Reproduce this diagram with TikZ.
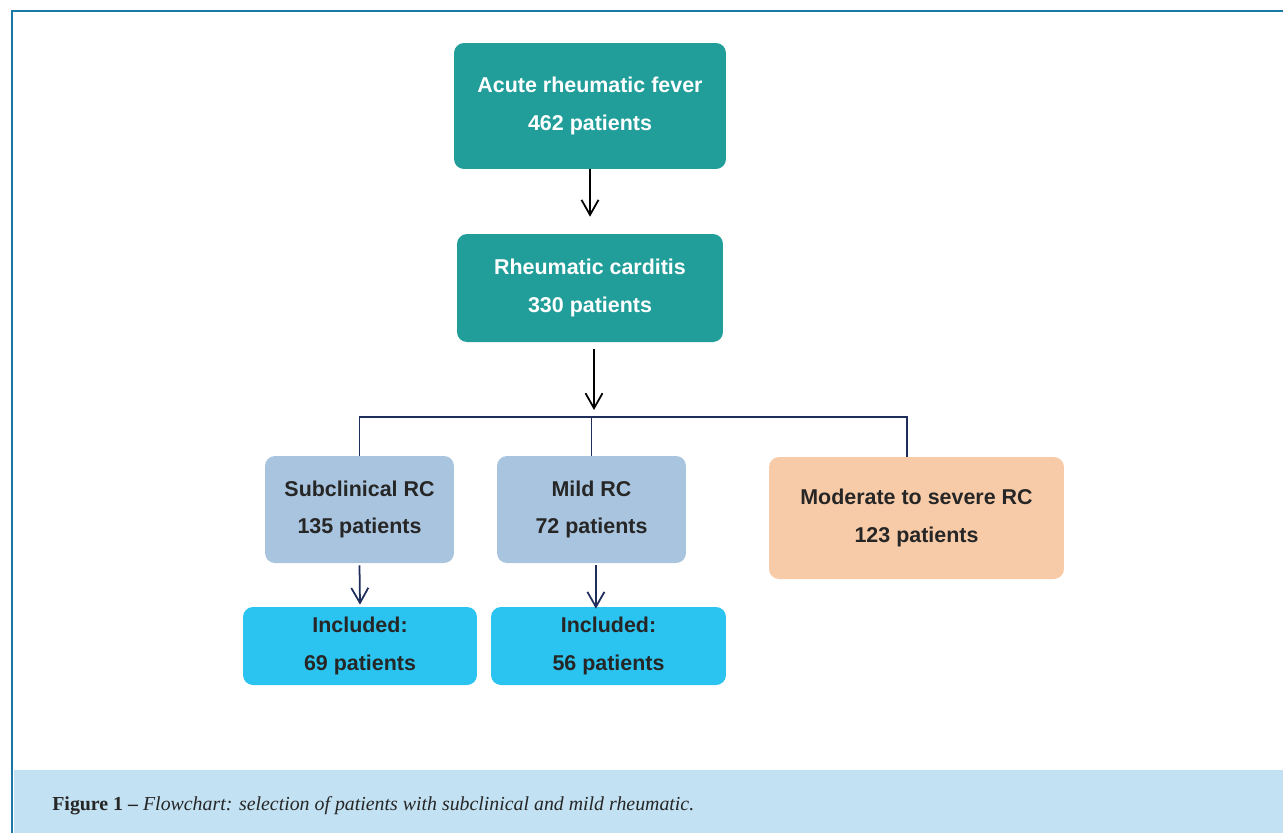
\documentclass[tikz,border=0pt]{standalone}
\usepackage{fontspec}
\setmainfont{Liberation Serif}
\setsansfont{Liberation Sans}
\usetikzlibrary{arrows.meta}
\definecolor{tealbox}{HTML}{219E9A}
\definecolor{greybox}{HTML}{A9C4DE}
\definecolor{peachbox}{HTML}{F8CBA8}
\definecolor{cyanbox}{HTML}{2BC4F0}
\definecolor{framecol}{HTML}{1B7AA5}
\definecolor{capcol}{HTML}{C2E1F2}
\definecolor{navy}{HTML}{1F2D5C}
\begin{document}
\begin{tikzpicture}[x=0.02cm, y=-0.02cm,%
% common options for boxes:
box/.style = {rectangle, rounded corners=0.2cm, align=center, inner sep=0,
            font=\sffamily\bfseries\fontsize{12.2}{13}\selectfont},
% common options for connectors:
link/.style = {draw=navy, line width=1pt},
>={Straight Barb[length=0.3cm, width=0.34cm]}]
\useasboundingbox (0,0) rectangle (1283,833);
% frame and caption band
\fill[capcol] (14,770) rectangle (1283,833);
\draw[framecol, line width=1.6pt] (12,833) -- (12,11) -- (1283,11);
\node[anchor=base west, inner sep=0, font=\fontsize{11.3}{13}\selectfont, text=black!85] (cap) at (52,810)
  {\textbf{Figure 1 –} \textit{Flowchart: selection of patients with subclinical and mild rheumatic.}};
% boxes
\node[box, fill=tealbox, text=white, minimum width=5.44cm, minimum height=2.52cm] (acute) at (590,106)
  {Acute rheumatic fever\\[8.5pt]462 patients};
\node[box, fill=tealbox, text=white, minimum width=5.32cm, minimum height=2.16cm] (rc) at (590,288)
  {Rheumatic carditis\\[8.5pt]330 patients};
\node[box, fill=greybox, text=black!85, minimum width=3.78cm, minimum height=2.14cm] (sub) at (359.5,509.5)
  {Subclinical RC\\[8.5pt]135 patients};
\node[box, fill=greybox, text=black!85, minimum width=3.78cm, minimum height=2.14cm] (mild) at (591.5,509.5)
  {Mild RC\\[8.5pt]72 patients};
\node[box, fill=peachbox, text=black!85, minimum width=5.9cm, minimum height=2.44cm] (mod) at (916.5,518)
  {Moderate to severe RC\\[8.5pt]123 patients};
\node[box, fill=cyanbox, text=black!85, minimum width=4.68cm, minimum height=1.56cm] (inc1) at (360,646)
  {Included:\\[8.5pt]69 patients};
\node[box, fill=cyanbox, text=black!85, minimum width=4.7cm, minimum height=1.56cm] (inc2) at (608.5,646)
  {Included:\\[8.5pt]56 patients};
\coordinate (split) at (594,417);
\coordinate (rjoin) at (907,417);
% connectors
\draw[->, line width=1pt] (acute.south) -- ([yshift=0.34cm]rc.north);
\draw[->, line width=1pt] ([yshift=-0.14cm]split |- rc.south) -- ([yshift=0.14cm]split);
\draw[link] (sub.north) |- (rjoin) -- (rjoin |- mod.north);
\draw[link] (mild.north) -- (mild.north |- rjoin);
\draw[link, ->] ([yshift=-0.04cm]sub.south) -- ([yshift=0.04cm]inc1.north);
\draw[link, ->] ([xshift=2.5pt, yshift=-0.04cm]mild.south) -- ([xshift=2.5pt, yshift=-0.04cm]mild.south |- inc2.north);
\end{tikzpicture}
\end{document}
